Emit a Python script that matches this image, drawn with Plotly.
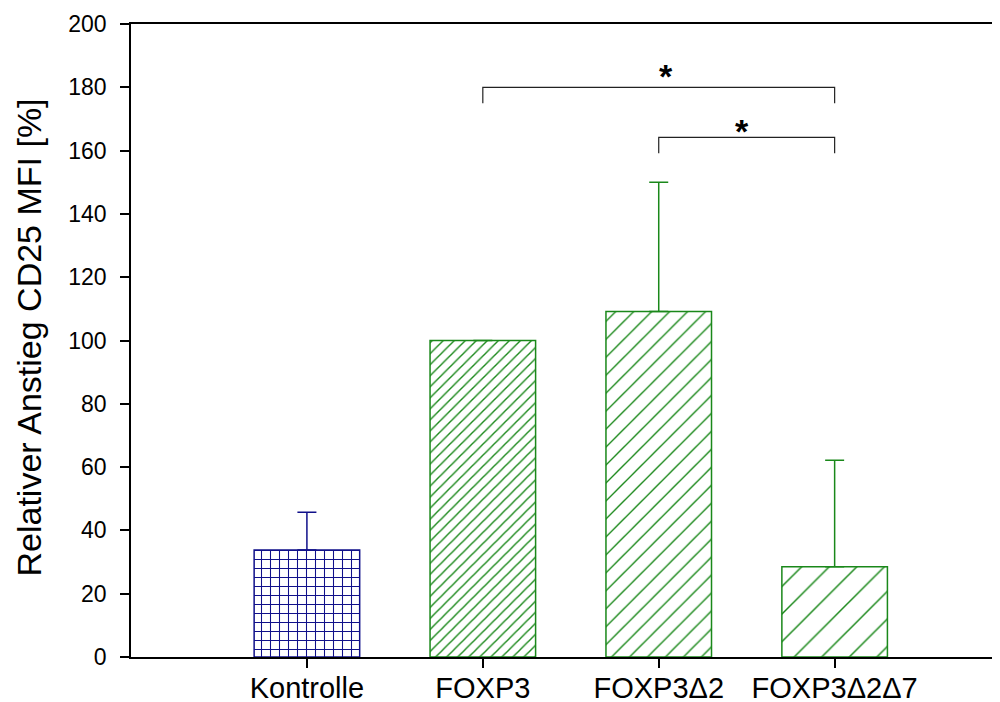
import plotly.graph_objects as go

# ---- data ----
categories = ["Kontrolle", "FOXP3", "FOXP3\u03942", "FOXP3\u03942\u03947"]
means = [33.8, 100.0, 109.2, 28.5]
err_plus = [11.9, 0.0, 40.8, 33.7]
# significance brackets: (from category index, to category index, bracket height)
brackets = [(1, 3, 180.0), (2, 3, 164.2)]
bracket_drop = 5.0
star_label = "*"
y_ticks = list(range(0, 201, 20))
y_title = "Relativer Anstieg CD25 MFI [%]"

x_pos = list(range(len(categories)))
BLUE = "#10108a"
GREEN = "#1a881a"
FONT = "Liberation Sans, Arial, sans-serif"

fig = go.Figure()

# Kontrolle (blue grid)
fig.add_trace(go.Bar(
    x=[x_pos[0]], y=[means[0]], width=0.6,
    marker=dict(color="white",
                line=dict(color=BLUE, width=1.5),
                pattern=dict(shape="+", size=9, solidity=0.22, fgopacity=1,
                             fgcolor=BLUE, bgcolor="white", fillmode="overlay")),
    error_y=dict(type="data", symmetric=False, array=[err_plus[0]], arrayminus=[0],
                 color=BLUE, thickness=1.5, width=9.5),
    showlegend=False,
))

# FOXP3 variants (green diagonal hatching with increasing spacing)
fig.add_trace(go.Bar(
    x=x_pos[1:], y=means[1:], width=0.6,
    marker=dict(color="white",
                line=dict(color=GREEN, width=1.5),
                pattern=dict(shape="/", size=[7.8, 12.7, 19.5], solidity=[0.18, 0.11, 0.075],
                             fgopacity=1,
                             fgcolor=GREEN, bgcolor="white", fillmode="overlay")),
    error_y=dict(type="data", symmetric=False, array=err_plus[1:], arrayminus=[0, 0, 0],
                 color=GREEN, thickness=1.5, width=9.5),
    showlegend=False,
))

# significance brackets
star_xshift = [7, -5]
star_yshift = [-10, -15]
for (a, b, h), xs, ys in zip(brackets, star_xshift, star_yshift):
    fig.add_shape(type="path",
                  path=f"M {a},{h - bracket_drop} L {a},{h} L {b},{h} L {b},{h - bracket_drop}",
                  xref="x", yref="y", line=dict(color="#222222", width=1.2))
    fig.add_annotation(x=(a + b) / 2, y=h, text=f"<b>{star_label}</b>", showarrow=False,
                       xref="x", yref="y", yanchor="bottom", xshift=xs, yshift=ys,
                       font=dict(family=FONT, size=34, color="black"))

# y-axis title as rotated annotation for exact placement
fig.add_annotation(text=y_title, textangle=-90, showarrow=False,
                   xref="paper", yref="paper", x=0, y=0.5,
                   xanchor="center", yanchor="middle", xshift=-103, yshift=3,
                   font=dict(family=FONT, size=34, color="black"))

# page body adds an 8px offset, so the figure is 992x694
fig.update_layout(
    width=992, height=694,
    margin=dict(l=123, r=0, t=16, b=45, autoexpand=False),
    paper_bgcolor="white", plot_bgcolor="white",
    barmode="overlay",
    font=dict(family=FONT, color="black"),
    xaxis=dict(range=[-1, 3.94], tickvals=x_pos, ticktext=categories,
               automargin=False,
               showgrid=False, zeroline=False,
               showline=True, linecolor="black", linewidth=1.5, mirror=True,
               ticks="outside", ticklen=9, tickwidth=1.5, tickcolor="black",
               ticklabelstandoff=-5,
               tickfont=dict(family=FONT, size=29, color="black")),
    yaxis=dict(range=[0, 200], tickvals=y_ticks,
               automargin=False,
               showgrid=False, zeroline=False,
               showline=True, linecolor="black", linewidth=1.5,
               ticks="outside", ticklen=9, tickwidth=1.5, tickcolor="black",
               ticklabelstandoff=9,
               tickfont=dict(family=FONT, size=23, color="black")),
)

fig.write_html("out.html")
